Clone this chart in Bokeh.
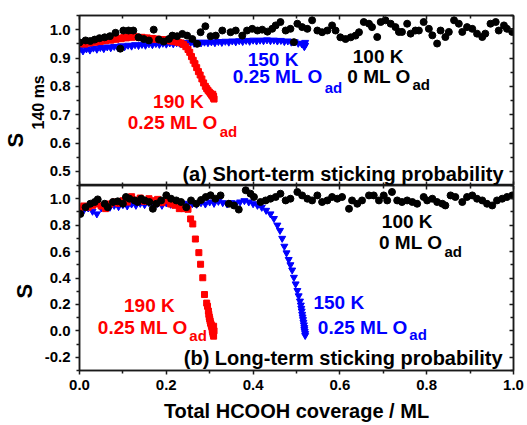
from bokeh.plotting import figure
from bokeh.models import LinearAxis, FixedTicker, NumeralTickFormatter, Label, Range1d, Title
from bokeh.layouts import column
from bokeh.embed import file_html
from bokeh.resources import INLINE

FONT = "Liberation Sans"

# ---------------- data ----------------
x_ticks = [0.0, 0.2, 0.4, 0.6, 0.8, 1.0]
x_minor = [0.1, 0.3, 0.5, 0.7, 0.9]
top_y_ticks = [0.5, 0.6, 0.7, 0.8, 0.9, 1.0]
top_y_minor = [0.45, 0.55, 0.65, 0.75, 0.85, 0.95, 1.05]
bot_y_ticks = [-0.2, 0.0, 0.2, 0.4, 0.6, 0.8, 1.0]
bot_y_minor = [-0.3, -0.1, 0.1, 0.3, 0.5, 0.7, 0.9, 1.1]

# (a) short-term, 100 K, 0 ML O_ad
a_k100_x = [0.000, 0.014, 0.025, 0.035, 0.046, 0.058, 0.070, 0.083, 0.094, 0.101,
            0.113, 0.124, 0.136, 0.148, 0.160, 0.171, 0.183, 0.194, 0.206, 0.214,
            0.225, 0.237, 0.248, 0.260, 0.271, 0.279, 0.290, 0.302, 0.314, 0.329,
            0.348, 0.360, 0.375, 0.386, 0.398, 0.410, 0.421, 0.433, 0.444, 0.452,
            0.463, 0.475, 0.486, 0.494, 0.502, 0.513, 0.525, 0.536, 0.548, 0.559,
            0.571, 0.582, 0.590, 0.601, 0.613, 0.625, 0.636, 0.644, 0.655, 0.667,
            0.674, 0.686, 0.694, 0.705, 0.717, 0.728, 0.736, 0.743, 0.755, 0.763,
            0.774, 0.782, 0.793, 0.805, 0.813, 0.824, 0.832, 0.843, 0.851, 0.863,
            0.874, 0.882, 0.893, 0.905, 0.916, 0.928, 0.935, 0.947, 0.959, 0.966,
            0.978, 0.985, 0.997]
a_k100_y = [0.955, 0.962, 0.960, 0.965, 0.970, 0.973, 0.977, 0.989, 0.933, 0.997,
            0.997, 0.997, 0.973, 0.967, 0.962, 1.000, 0.965, 0.958, 0.967, 0.979,
            0.977, 0.985, 0.979, 0.967, 0.950, 0.991, 1.012, 0.977, 0.979, 0.997,
            0.991, 0.997, 0.979, 0.997, 1.003, 0.997, 1.000, 0.993, 1.003, 1.015,
            1.027, 0.997, 1.003, 0.956, 1.021, 1.009, 1.003, 1.033, 0.997, 0.991,
            0.997, 1.015, 0.997, 0.973, 0.967, 0.973, 0.979, 0.991, 1.027, 1.021,
            1.009, 0.974, 1.027, 1.033, 1.021, 1.009, 0.992, 0.992, 1.021, 0.986,
            0.997, 0.997, 1.027, 1.003, 0.980, 0.951, 0.997, 0.974, 0.992, 1.033,
            1.021, 0.992, 1.009, 1.003, 0.986, 0.974, 0.986, 1.021, 1.027, 0.997,
            1.015, 1.003, 0.992]

# (a) short-term, 190 K, 0.25 ML O_ad
a_k190_x = [0.000, 0.006, 0.012, 0.018, 0.024, 0.030, 0.036, 0.042, 0.048, 0.054,
            0.060, 0.066, 0.072, 0.078, 0.084, 0.090, 0.096, 0.102, 0.108, 0.114,
            0.120, 0.126, 0.132, 0.138, 0.144, 0.150, 0.156, 0.162, 0.168, 0.174,
            0.180, 0.186, 0.192, 0.198, 0.204, 0.210, 0.216, 0.222, 0.228, 0.234,
            0.240, 0.245, 0.250, 0.254, 0.258, 0.262, 0.266, 0.270, 0.274, 0.278,
            0.282, 0.286, 0.290, 0.293, 0.296, 0.299, 0.302, 0.304, 0.306, 0.308,
            0.309, 0.310, 0.307, 0.309]
a_k190_y = [0.950, 0.952, 0.949, 0.954, 0.953, 0.957, 0.956, 0.960, 0.958, 0.962,
            0.961, 0.965, 0.963, 0.967, 0.966, 0.970, 0.968, 0.972, 0.971, 0.975,
            0.973, 0.976, 0.974, 0.972, 0.973, 0.970, 0.971, 0.968, 0.969, 0.966,
            0.967, 0.964, 0.965, 0.962, 0.963, 0.960, 0.959, 0.957, 0.955, 0.953,
            0.948, 0.940, 0.930, 0.920, 0.905, 0.892, 0.880, 0.866, 0.852, 0.840,
            0.826, 0.812, 0.800, 0.792, 0.786, 0.780, 0.775, 0.770, 0.766, 0.762,
            0.758, 0.755, 0.772, 0.765]

# (a) short-term, 150 K, 0.25 ML O_ad
a_k150_x = [0.000, 0.008, 0.016, 0.024, 0.032, 0.040, 0.048, 0.056, 0.064, 0.072,
            0.080, 0.088, 0.096, 0.104, 0.112, 0.120, 0.128, 0.136, 0.144, 0.152,
            0.160, 0.168, 0.176, 0.184, 0.192, 0.200, 0.208, 0.216, 0.224, 0.232,
            0.240, 0.248, 0.256, 0.264, 0.272, 0.280, 0.288, 0.296, 0.304, 0.312,
            0.320, 0.328, 0.336, 0.344, 0.352, 0.360, 0.368, 0.376, 0.384, 0.392,
            0.400, 0.408, 0.416, 0.424, 0.432, 0.440, 0.448, 0.456, 0.464, 0.472,
            0.480, 0.488, 0.496, 0.504, 0.512, 0.520, 0.518, 0.520]
a_k150_y = [0.930, 0.925, 0.932, 0.928, 0.935, 0.931, 0.937, 0.933, 0.939, 0.936,
            0.941, 0.938, 0.943, 0.940, 0.945, 0.942, 0.947, 0.944, 0.948, 0.945,
            0.950, 0.947, 0.951, 0.948, 0.952, 0.949, 0.953, 0.950, 0.954, 0.951,
            0.955, 0.952, 0.955, 0.952, 0.956, 0.953, 0.956, 0.954, 0.957, 0.954,
            0.958, 0.955, 0.959, 0.956, 0.960, 0.957, 0.961, 0.958, 0.962, 0.959,
            0.963, 0.960, 0.963, 0.961, 0.964, 0.961, 0.963, 0.960, 0.962, 0.958,
            0.960, 0.956, 0.957, 0.952, 0.950, 0.945, 0.940, 0.955]

# (b) long-term, 100 K, 0 ML O_ad
b_k100_x = [0.002, 0.014, 0.025, 0.035, 0.042, 0.058, 0.065, 0.077, 0.088, 0.100,
            0.107, 0.115, 0.127, 0.134, 0.142, 0.150, 0.161, 0.169, 0.177, 0.188,
            0.200, 0.211, 0.223, 0.234, 0.246, 0.257, 0.269, 0.280, 0.291, 0.302,
            0.313, 0.325, 0.344, 0.356, 0.367, 0.383, 0.394, 0.402, 0.417, 0.429,
            0.440, 0.452, 0.463, 0.475, 0.486, 0.502, 0.513, 0.525, 0.536, 0.548,
            0.559, 0.571, 0.582, 0.594, 0.605, 0.621, 0.628, 0.640, 0.651, 0.667,
            0.678, 0.690, 0.701, 0.709, 0.720, 0.732, 0.743, 0.755, 0.767, 0.778,
            0.793, 0.801, 0.813, 0.824, 0.836, 0.843, 0.855, 0.866, 0.882, 0.893,
            0.905, 0.916, 0.928, 0.939, 0.951, 0.962, 0.974, 0.985, 0.997]
b_k100_y = [0.885, 0.936, 0.962, 0.975, 0.995, 0.962, 0.936, 0.975, 0.980, 0.962,
            1.013, 1.000, 0.987, 0.975, 1.000, 0.987, 0.975, 0.924, 0.962, 0.987,
            1.026, 1.000, 0.987, 0.975, 0.936, 0.987, 0.962, 0.990, 1.013, 1.026,
            1.000, 1.025, 0.962, 0.949, 0.918, 1.064, 1.038, 1.013, 0.975, 0.987,
            1.000, 1.013, 1.038, 0.987, 1.000, 1.051, 1.025, 1.000, 0.987, 1.025,
            0.975, 0.987, 1.013, 1.000, 1.013, 0.924, 0.987, 0.962, 0.987, 1.025,
            1.025, 0.987, 1.025, 0.987, 1.051, 0.987, 0.975, 0.987, 0.975, 0.962,
            1.013, 0.987, 1.000, 0.975, 0.962, 0.949, 1.025, 1.013, 0.975, 1.013,
            1.025, 1.000, 0.987, 0.962, 0.949, 0.987, 1.000, 1.013, 1.025]

# (b) long-term, 190 K, 0.25 ML O_ad
b_k190_x = [0.000, 0.010, 0.020, 0.030, 0.040, 0.050, 0.060, 0.070, 0.080, 0.090,
            0.100, 0.110, 0.120, 0.130, 0.140, 0.150, 0.160, 0.170, 0.180, 0.190,
            0.200, 0.210, 0.220, 0.230, 0.240, 0.250, 0.256, 0.261, 0.267, 0.275,
            0.279, 0.284, 0.288, 0.293, 0.295, 0.297, 0.298, 0.299, 0.300, 0.301,
            0.302, 0.303, 0.304, 0.305, 0.306, 0.306, 0.307, 0.308, 0.309, 0.310,
            0.309]
b_k190_y = [0.930, 0.945, 0.936, 0.950, 0.960, 0.945, 0.925, 0.960, 0.975, 0.965,
            0.985, 0.975, 1.015, 0.990, 1.005, 0.980, 1.000, 0.985, 0.995, 0.970,
            0.985, 0.960, 0.950, 0.925, 0.925, 0.920, 0.847, 0.809, 0.695, 0.592,
            0.504, 0.402, 0.275, 0.210, 0.186, 0.150, 0.125, 0.105, 0.090, 0.075,
            0.060, 0.050, 0.040, 0.030, 0.020, 0.005, -0.010, -0.025, -0.040, 0.000,
            0.035]

# (b) long-term, 150 K, 0.25 ML O_ad
b_k150_x = [0.000, 0.010, 0.020, 0.030, 0.040, 0.050, 0.060, 0.070, 0.080, 0.090,
            0.100, 0.110, 0.120, 0.130, 0.140, 0.150, 0.160, 0.170, 0.180, 0.190,
            0.200, 0.210, 0.220, 0.230, 0.240, 0.250, 0.260, 0.270, 0.280, 0.290,
            0.300, 0.310, 0.320, 0.330, 0.340, 0.350, 0.360, 0.370, 0.380, 0.390,
            0.400, 0.410, 0.420, 0.430, 0.440, 0.448, 0.456, 0.462, 0.467, 0.472,
            0.477, 0.482, 0.486, 0.490, 0.494, 0.498, 0.502, 0.505, 0.508, 0.510,
            0.511, 0.512, 0.513, 0.514, 0.515, 0.516, 0.517, 0.518, 0.518, 0.519,
            0.520, 0.520]
b_k150_y = [0.900, 0.915, 0.930, 0.905, 0.885, 0.930, 0.945, 0.935, 0.950, 0.940,
            0.955, 0.945, 0.960, 0.950, 0.965, 0.955, 0.970, 0.955, 0.965, 0.950,
            0.968, 0.958, 0.970, 0.960, 0.965, 0.955, 0.962, 0.958, 0.970, 0.960,
            0.975, 0.965, 0.980, 0.970, 0.960, 0.970, 0.965, 0.975, 0.985, 0.975,
            0.962, 0.950, 0.935, 0.912, 0.885, 0.850, 0.800, 0.760, 0.700, 0.640,
            0.590, 0.540, 0.500, 0.460, 0.405, 0.355, 0.305, 0.265, 0.225, 0.195,
            0.170, 0.150, 0.125, 0.105, 0.085, 0.065, 0.045, 0.025, 0.010, -0.005,
            -0.020, -0.035]

RED = "#ff0000"
BLUE = "#0000ff"
BLACK = "#000000"
FRAME = "#1a1a1a"


def add_axis(p, place, ticks, minor, labels, tick_in, tick_out):
    ax = LinearAxis(ticker=FixedTicker(ticks=ticks, minor_ticks=minor),
                    formatter=NumeralTickFormatter(format="0.0"))
    ax.axis_line_width = 1.5
    ax.axis_line_color = FRAME
    ax.major_tick_line_width = 1.5
    ax.minor_tick_line_width = 1.5
    ax.major_tick_line_color = FRAME
    ax.minor_tick_line_color = FRAME
    ax.major_tick_in = tick_in
    ax.major_tick_out = tick_out
    ax.minor_tick_in = 3 if tick_in else 0
    ax.minor_tick_out = 3 if tick_out else 0
    if labels:
        ax.major_label_text_font = FONT
        ax.major_label_text_font_style = "bold"
        ax.major_label_text_font_size = "15px"
        ax.major_label_text_color = BLACK
        ax.major_label_standoff = 5
    else:
        ax.major_label_text_color = None
        ax.major_label_text_font_size = "0px"
        ax.major_label_standoff = 0
    p.add_layout(ax, place)
    return ax


def make_fig(frame_h, yr, top_border, bottom_border):
    p = figure(frame_width=434, frame_height=frame_h,
               x_range=Range1d(0, 1), y_range=Range1d(*yr),
               output_backend="svg", toolbar_location=None,
               x_axis_location=None, y_axis_location=None,
               min_border_left=79, min_border_right=14, min_border_top=top_border,
               min_border_bottom=bottom_border)
    p.grid.visible = False
    p.outline_line_color = FRAME
    p.outline_line_width = 1.5
    p.background_fill_color = "white"
    p.border_fill_color = "white"
    return p


def label(p, x, y, text, color, size="19px", align="left"):
    p.add_layout(Label(x=x, y=y, text=text, text_color=color, text_font=FONT,
                       text_font_style="bold", text_font_size=size, text_align=align,
                       text_baseline="alphabetic"))


def side_title(p, text, size, offset, standoff):
    p.add_layout(Title(text=text, text_font=FONT, text_font_style="bold",
                       text_font_size=size, text_color=BLACK, align="left",
                       offset=offset, standoff=standoff), "left")


# ---------------- top panel ----------------
p1 = make_fig(170, (0.45, 1.05), 15, 0)
add_axis(p1, "left", top_y_ticks, top_y_minor, True, 0, 4)
add_axis(p1, "right", top_y_ticks, top_y_minor, False, 4, 0)
add_axis(p1, "above", x_ticks, x_minor, False, 4, 0)
add_axis(p1, "below", x_ticks, x_minor, False, 4, 0)
side_title(p1, "140 ms", "16px", 56, 0)
side_title(p1, "S", "22px", 38, 0)

p1.scatter(a_k150_x, a_k150_y, marker="inverted_triangle", size=7, color=BLUE)
p1.scatter(a_k190_x, a_k190_y, marker="square", size=6, color=RED)
p1.scatter(a_k100_x, a_k100_y, marker="circle", size=7, color=BLACK)

label(p1, 0.228, 0.747, "190 K", RED, align="center")
label(p1, 0.318, 0.672, "0.25 ML O", RED, align="right")
label(p1, 0.323, 0.641, "ad", RED, size="15px")
label(p1, 0.446, 0.895, "150 K", BLUE, align="center")
label(p1, 0.560, 0.835, "0.25 ML O", BLUE, align="right")
label(p1, 0.565, 0.796, "ad", BLUE, size="15px")
label(p1, 0.688, 0.906, "100 K", BLACK, align="center")
label(p1, 0.763, 0.835, "0 ML O", BLACK, align="right")
label(p1, 0.767, 0.807, "ad", BLACK, size="15px")
label(p1, 0.977, 0.489, "(a) Short-term sticking probability", BLACK, size="20px", align="right")

# ---------------- bottom panel ----------------
p2 = make_fig(185, (-0.3, 1.1), 0, 0)
add_axis(p2, "left", bot_y_ticks, bot_y_minor, True, 0, 4)
add_axis(p2, "right", bot_y_ticks, bot_y_minor, False, 4, 0)
add_axis(p2, "above", x_ticks, x_minor, False, 4, 0)
xb = add_axis(p2, "below", x_ticks, x_minor, True, 0, 4)
xb.axis_label = "Total HCOOH coverage / ML"
xb.axis_label_text_font = FONT
xb.axis_label_text_font_style = "bold"
xb.axis_label_text_font_size = "20px"
xb.axis_label_text_color = BLACK
xb.axis_label_standoff = 7
side_title(p2, "S", "22px", 72, 9)

p2.scatter(b_k150_x, b_k150_y, marker="inverted_triangle", size=7, color=BLUE)
p2.scatter(b_k190_x, b_k190_y, marker="square", size=6, color=RED)
p2.scatter(b_k100_x, b_k100_y, marker="circle", size=7, color=BLACK)

label(p2, 0.161, 0.193, "190 K", RED, align="center")
label(p2, 0.249, 0.025, "0.25 ML O", RED, align="right")
label(p2, 0.253, -0.036, "ad", RED, size="15px")
label(p2, 0.539, 0.216, "150 K", BLUE)
label(p2, 0.756, 0.025, "0.25 ML O", BLUE, align="right")
label(p2, 0.760, -0.028, "ad", BLUE, size="15px")
label(p2, 0.755, 0.827, "100 K", BLACK, align="center")
label(p2, 0.836, 0.667, "0 ML O", BLACK, align="right")
label(p2, 0.841, 0.598, "ad", BLACK, size="15px")
label(p2, 0.975, -0.202, "(b) Long-term sticking probability", BLACK, size="20px", align="right")

layout = column(p1, p2, spacing=0)
open("out.html", "w").write(file_html(layout, INLINE))
